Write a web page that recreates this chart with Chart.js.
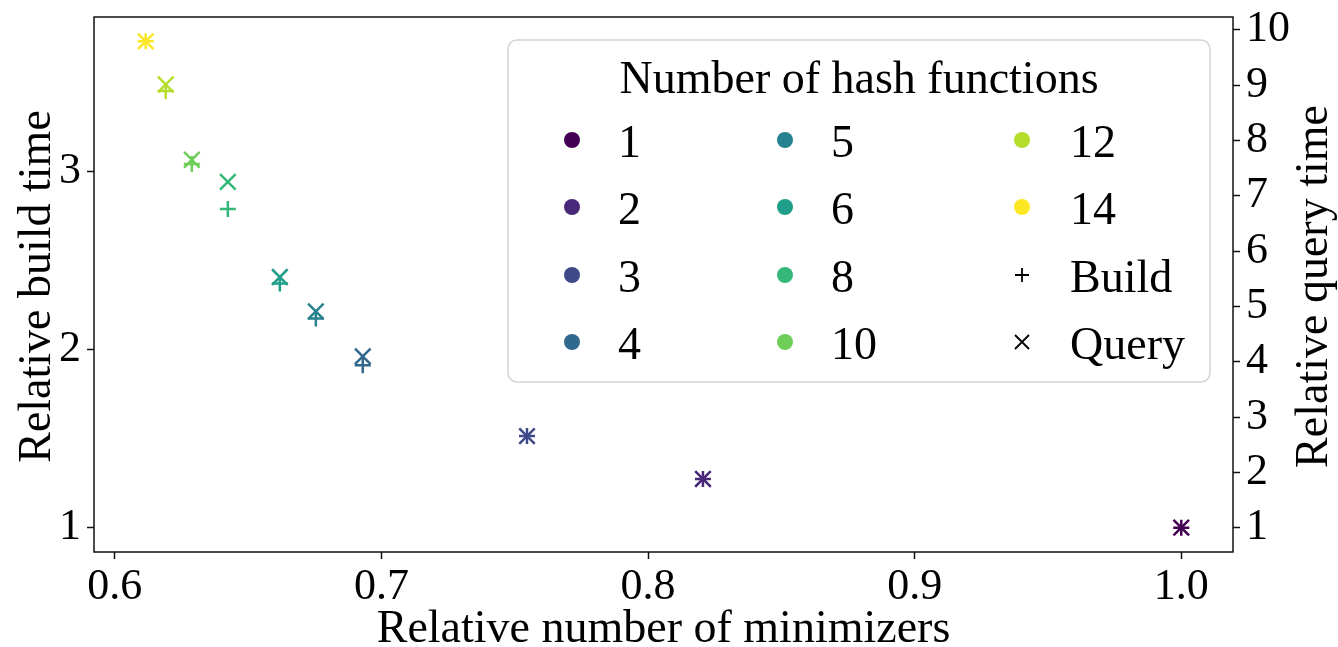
<!DOCTYPE html>
<html>
<head>
<meta charset="utf-8">
<script src="https://cdn.jsdelivr.net/npm/chart.js@4.4.1/dist/chart.umd.min.js"></script>
<style>
  html, body { margin: 0; padding: 0; background: #ffffff; }
  canvas { display: block; }
</style>
</head>
<body>
<canvas id="chart" width="1338" height="647"></canvas>
<script>
// Number of hash functions per configuration
const hashFunctions = [1, 2, 3, 4, 5, 6, 8, 10, 12, 14];
// Relative number of minimizers (x)
const relMinimizers = [1.0, 0.8206, 0.7546, 0.693, 0.6754, 0.6619, 0.6424, 0.6289, 0.6191, 0.6116];
// Relative build time (left axis)
const relBuildTime = [1.0, 1.274, 1.514, 1.911, 2.173, 2.369, 2.788, 3.04, 3.449, 3.728];
// Relative query time (right axis)
const relQueryTime = [1.0, 1.88, 2.656, 4.096, 4.91, 5.53, 7.25, 7.65, 9.01, 9.79];

const xTickValues = [0.6, 0.7, 0.8, 0.9, 1.0];
const buildTickValues = [1, 2, 3];
const queryTickValues = [1, 2, 3, 4, 5, 6, 7, 8, 9, 10];

const legendTitle = 'Number of hash functions';
const xTitle = 'Relative number of minimizers';
const buildTitle = 'Relative build time';
const queryTitle = 'Relative query time';

// viridis sampled at 10 evenly spaced steps
const viridis10 = ['#440154', '#482878', '#3e4989', '#31688e', '#26828e',
                   '#1f9e89', '#35b779', '#6ece58', '#b5de2b', '#fde725'];

const FONT = '"Liberation Serif", "DejaVu Serif", serif';
const INK = '#111111';

const buildPoints = relMinimizers.map((x, i) => ({ x: x, y: relBuildTime[i] }));
const queryPoints = relMinimizers.map((x, i) => ({ x: x, y: relQueryTime[i] }));

// Axis frame drawn around the plotting area
const framePlugin = {
  id: 'frame',
  afterDatasetsDraw(chart) {
    const { ctx, chartArea: a } = chart;
    ctx.save();
    ctx.strokeStyle = INK;
    ctx.lineWidth = 1.5;
    ctx.strokeRect(a.left, a.top, a.right - a.left, a.bottom - a.top);
    ctx.restore();
  }
};

// Axis titles (both vertical titles read bottom-to-top)
const titlesPlugin = {
  id: 'axisTitles',
  afterDraw(chart) {
    const { ctx, chartArea: a } = chart;
    const midY = (a.top + a.bottom) / 2;
    ctx.save();
    ctx.fillStyle = '#000';
    ctx.font = '46px ' + FONT;
    ctx.textAlign = 'center';
    ctx.textBaseline = 'alphabetic';
    ctx.fillText(xTitle, (a.left + a.right) / 2, a.bottom + 90);

    ctx.save();
    ctx.translate(a.left - 44, midY + 2);
    ctx.rotate(-Math.PI / 2);
    ctx.fillText(buildTitle, 0, 0);
    ctx.restore();

    ctx.save();
    ctx.translate(a.right + 94, midY + 2);
    ctx.rotate(-Math.PI / 2);
    ctx.fillText(queryTitle, 0, 0);
    ctx.restore();
    ctx.restore();
  }
};

// Three-column legend with title and marker key
const legendPlugin = {
  id: 'hashLegend',
  afterDraw(chart) {
    const { ctx, chartArea: a } = chart;
    const bx = a.left + 414, by = a.top + 23, bw = 702, bh = 342;
    ctx.save();
    ctx.beginPath();
    ctx.roundRect(bx, by, bw, bh, 9);
    ctx.fillStyle = 'rgba(255,255,255,0.8)';
    ctx.fill();
    ctx.strokeStyle = '#d4d4d4';
    ctx.lineWidth = 1.5;
    ctx.stroke();

    ctx.fillStyle = '#000';
    ctx.font = '46px ' + FONT;
    ctx.textAlign = 'center';
    ctx.textBaseline = 'alphabetic';
    ctx.fillText(legendTitle, bx + bw / 2, by + 53);

    const items = hashFunctions.map((k, i) => ({ label: String(k), kind: 'dot', color: viridis10[i] }));
    items.push({ label: 'Build', kind: 'plus', color: '#000' });
    items.push({ label: 'Query', kind: 'cross', color: '#000' });

    const markerX = [bx + 64, bx + 277, bx + 514];
    const labelX = [bx + 110, bx + 323, bx + 562];
    const rowY = [by + 100, by + 167, by + 235, by + 302];

    ctx.textAlign = 'left';
    items.forEach((it, i) => {
      const col = Math.floor(i / 4), row = i % 4;
      const mx = markerX[col], my = rowY[row];
      ctx.fillStyle = it.color;
      ctx.strokeStyle = it.color;
      if (it.kind === 'dot') {
        ctx.beginPath();
        ctx.arc(mx, my, 8, 0, Math.PI * 2);
        ctx.fill();
      } else if (it.kind === 'plus') {
        ctx.lineWidth = 1.8;
        ctx.beginPath();
        ctx.moveTo(mx - 7, my); ctx.lineTo(mx + 7, my);
        ctx.moveTo(mx, my - 7); ctx.lineTo(mx, my + 7);
        ctx.stroke();
      } else {
        ctx.lineWidth = 1.8;
        ctx.beginPath();
        ctx.moveTo(mx - 7, my - 7); ctx.lineTo(mx + 7, my + 7);
        ctx.moveTo(mx - 7, my + 7); ctx.lineTo(mx + 7, my - 7);
        ctx.stroke();
      }
      ctx.fillStyle = '#000';
      ctx.fillText(it.label, labelX[col], my + 17);
    });
    ctx.restore();
  }
};

const tickFont = { family: FONT, size: 44 };
const tickGrid = { display: true, drawOnChartArea: false, drawTicks: true, tickLength: 7, tickWidth: 1.5, tickColor: INK };

// Fixed axis box sizes; label overflow padding is suppressed so the plot area stays put
function fixBox(size) {
  return s => {
    if (s.isHorizontal()) s.height = size; else s.width = size;
    s.paddingTop = 0; s.paddingBottom = 0; s.paddingLeft = 0; s.paddingRight = 0;
  };
}

new Chart(document.getElementById('chart'), {
  type: 'scatter',
  data: {
    datasets: [
      {
        label: 'Build',
        data: buildPoints,
        yAxisID: 'yBuild',
        pointStyle: 'cross',
        pointRadius: 8,
        pointHoverRadius: 8,
        pointBorderWidth: 2.5,
        pointBorderColor: viridis10,
        pointBackgroundColor: viridis10,
        showLine: false
      },
      {
        label: 'Query',
        data: queryPoints,
        yAxisID: 'yQuery',
        pointStyle: 'crossRot',
        pointRadius: 11,
        pointHoverRadius: 11,
        pointBorderWidth: 2.5,
        pointBorderColor: viridis10,
        pointBackgroundColor: viridis10,
        showLine: false
      }
    ]
  },
  options: {
    responsive: false,
    animation: false,
    devicePixelRatio: 1,
    layout: { padding: { top: 17, left: 0, right: 0, bottom: 0 } },
    plugins: { legend: { display: false }, tooltip: { enabled: false } },
    scales: {
      x: {
        type: 'linear',
        position: 'bottom',
        min: 0.5922,
        max: 1.0194,
        border: { display: false },
        grid: tickGrid,
        ticks: { font: tickFont, color: '#000', padding: 2, maxRotation: 0, callback: v => Number(v).toFixed(1) },
        afterBuildTicks: s => { s.ticks = xTickValues.map(v => ({ value: v })); },
        afterFit: fixBox(95)
      },
      yBuild: {
        type: 'linear',
        position: 'left',
        min: 0.864,
        max: 3.864,
        border: { display: false },
        grid: tickGrid,
        ticks: { font: tickFont, color: '#000', padding: 6, callback: v => String(v) },
        afterBuildTicks: s => { s.ticks = buildTickValues.map(v => ({ value: v })); },
        afterFit: fixBox(94)
      },
      yQuery: {
        type: 'linear',
        position: 'right',
        min: 0.56,
        max: 10.23,
        border: { display: false },
        grid: tickGrid,
        ticks: { font: tickFont, color: '#000', padding: 6, callback: v => String(v) },
        afterBuildTicks: s => { s.ticks = queryTickValues.map(v => ({ value: v })); },
        afterFit: fixBox(105)
      }
    }
  },
  plugins: [framePlugin, titlesPlugin, legendPlugin]
});
</script>
</body>
</html>
